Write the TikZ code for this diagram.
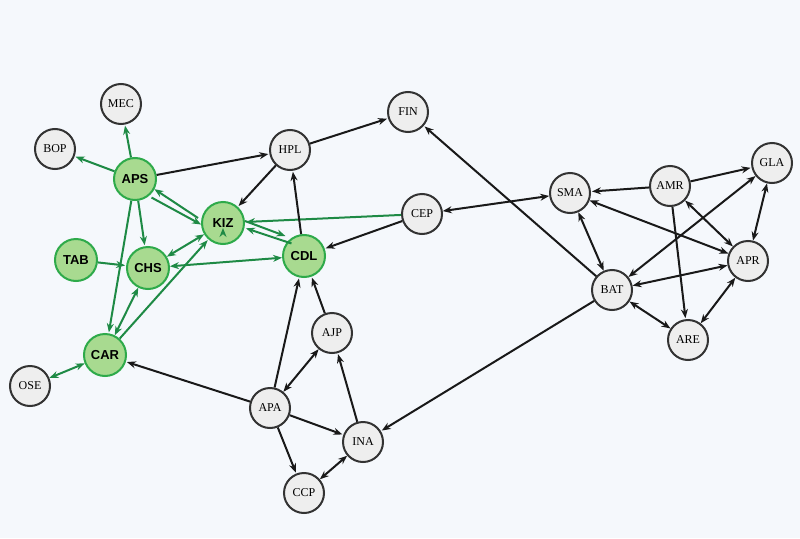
\documentclass[tikz,border=0pt]{standalone}
\usepackage{fontspec}
\setsansfont{Liberation Sans}
\setmainfont{Liberation Serif}
\usetikzlibrary{arrows.meta}
\definecolor{bg}{HTML}{F5F8FC}
\definecolor{gfill}{HTML}{A8DA90}
\definecolor{gline}{HTML}{2EAA4A}
\definecolor{gedge}{HTML}{1E8A45}
\definecolor{nfill}{HTML}{EEEEEE}
\definecolor{nline}{HTML}{333333}
\tikzset{
 gnode/.style={circle,draw=gline,fill=gfill,line width=2pt,minimum size=42pt,inner sep=0pt,font=\sffamily\bfseries\fontsize{13}{13}\selectfont},
 wnode/.style={circle,draw=nline,fill=nfill,line width=2pt,minimum size=40pt,inner sep=0pt,font=\rmfamily\fontsize{12}{12}\selectfont},
 e/.style={-{Stealth[length=9pt,width=7pt]},line width=2pt,color=black!90,shorten >=1pt},
 ee/.style={{Stealth[length=9pt,width=7pt]}-{Stealth[length=9pt,width=7pt]},line width=2pt,color=black!90},
 ge/.style={e,color=gedge},
 gee/.style={ee,color=gedge},
}
\begin{document}
\begin{tikzpicture}[x=1pt,y=-1pt]
\fill[bg] (0,0) rectangle (800,538);
\useasboundingbox (0,0) rectangle (800,538);
\node[wnode] (MEC) at (121,104) {MEC};
\node[wnode] (BOP) at (55,149) {BOP};
\node[gnode] (APS) at (135,179) {APS};
\node[gnode] (TAB) at (76,260) {TAB};
\node[gnode] (CHS) at (148,268) {CHS};
\node[gnode] (KIZ) at (223,223) {KIZ};
\node[gnode] (CDL) at (304,256) {CDL};
\node[gnode] (CAR) at (105,355) {CAR};
\node[wnode] (OSE) at (30,386) {OSE};
\node[wnode] (HPL) at (290,150) {HPL};
\node[wnode] (FIN) at (408,112) {FIN};
\node[wnode] (CEP) at (422,214) {CEP};
\node[wnode] (AJP) at (332,333) {AJP};
\node[wnode] (APA) at (270,408) {APA};
\node[wnode] (INA) at (363,442) {INA};
\node[wnode] (CCP) at (304,493) {CCP};
\node[wnode] (SMA) at (570,193) {SMA};
\node[wnode] (AMR) at (670,186) {AMR};
\node[wnode] (GLA) at (772,163) {GLA};
\node[wnode] (APR) at (748,261) {APR};
\node[wnode] (BAT) at (612,290) {BAT};
\node[wnode] (ARE) at (688,340) {ARE};
% green edges
\draw[ge] (APS) -- (MEC);
\draw[ge] (APS) -- (BOP);
\draw[ge] (APS) -- (CHS);
\draw[ge] (APS) -- (CAR);
\draw[ge] ([yshift=-4pt]KIZ.center) ++(0,0) coordinate (k1);
\draw[ge] ([shift={(-3,-5)}]KIZ.west) -- ([shift={(3,-6)}]APS.south east);
\draw[ge] ([shift={(1,3)}]APS.south east) -- ([shift={(1,2)}]KIZ.west);
\draw[ge] ([shift={(0,-2)}]KIZ.east) -- ([shift={(-2,-4)}]CDL.north west);
\draw[ge] ([shift={(3,3)}]CDL.north west) -- ([shift={(0,5)}]KIZ.east);
\draw[gee] (KIZ) -- (CHS);
\draw[gee] (CHS) -- (CDL);
\draw[ge] (TAB) -- (CHS);
\draw[gee] (CHS) -- (CAR);
\draw[ge] (CAR) -- (KIZ);
\draw[gee] (CAR) -- (OSE);
\draw[ge] (CEP) -- (KIZ);
% black edges
\draw[e] (APS) -- (HPL);
\draw[e] (HPL) -- (KIZ);
\draw[e] (CDL) -- (HPL);
\draw[e] (HPL) -- (FIN);
\draw[e] (CEP) -- (CDL);
\draw[ee] (CEP) -- (SMA);
\draw[e] (APA) -- (CDL);
\draw[e] (AJP) -- (CDL);
\draw[ee] (APA) -- (AJP);
\draw[e] (APA) -- (CAR);
\draw[e] (APA) -- (INA);
\draw[e] (APA) -- (CCP);
\draw[e] (INA) -- (AJP);
\draw[ee] (INA) -- (CCP);
\draw[e] (BAT) -- (INA);
\draw[e] (BAT) -- (FIN);
\draw[ee] (BAT) -- (SMA);
\draw[e] (AMR) -- (SMA);
\draw[e] (AMR) -- (GLA);
\draw[e] (AMR) -- (ARE);
\draw[ee] (AMR) -- (APR);
\draw[ee] (SMA) -- (APR);
\draw[ee] (BAT) -- (GLA);
\draw[ee] (BAT) -- (APR);
\draw[ee] (BAT) -- (ARE);
\draw[ee] (ARE) -- (APR);
\draw[ee] (GLA) -- (APR);
\end{tikzpicture}
\end{document}
